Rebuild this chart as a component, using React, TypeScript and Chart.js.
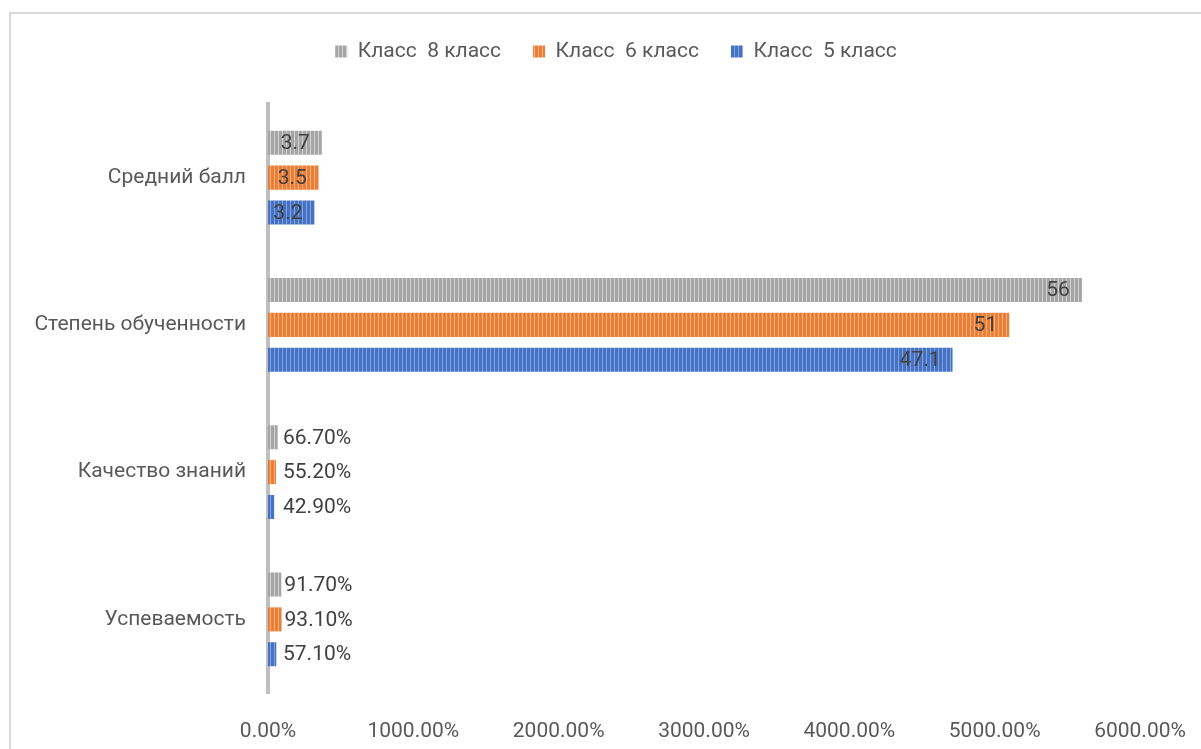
import React, { useEffect, useRef } from "react";
import { Chart, registerables } from "chart.js";

Chart.register(...registerables);

const categories = ["Средний балл", "Степень обученности", "Качество знаний", "Успеваемость"];
const seriesNames = ["Класс  8 класс", "Класс  6 класс", "Класс  5 класс"];
const class8 = [3.7, 56, 0.667, 0.917];
const class6 = [3.5, 51, 0.552, 0.931];
const class5 = [3.2, 47.1, 0.429, 0.571];
const percentCategories = [false, false, true, true];
const axisMin = 0;
const axisMax = 60;
const axisStep = 10;

const baseColors = ["#a5a5a5", "#ed7d31", "#4472c4"];
const lightColors = ["#d2d2d2", "#f6b48a", "#86a2db"];

const FONT = "Roboto";
const FS = 21;

function makePattern(base: string, light: string): CanvasPattern | string {
  const c = document.createElement("canvas");
  c.width = 4;
  c.height = 4;
  const g = c.getContext("2d");
  if (!g) return base;
  g.fillStyle = base;
  g.fillRect(0, 0, 4, 4);
  g.fillStyle = light;
  g.fillRect(2, 0, 1, 4);
  const p = g.createPattern(c, "repeat");
  return p || base;
}

function fmtPercent(v: number): string {
  return (v * 100).toFixed(2) + "%";
}

const labelPlugin = {
  id: "barLabels",
  beforeLayout(chart: any) {
    const lg = chart.legend;
    if (lg && !lg._patched) {
      const orig = lg.fit;
      lg.fit = function () {
        orig.call(this);
        this.height += 32;
      };
      lg._patched = true;
    }
  },
  afterLayout(chart: any) {
    const lg = chart.legend;
    if (lg) {
      lg.left += 46;
      lg.right += 46;
    }
  },
  afterDatasetsDraw(chart: any) {
    const ctx = chart.ctx;
    ctx.save();
    ctx.font = `${FS}px ${FONT}`;
    ctx.fillStyle = "#404040";
    ctx.textBaseline = "middle";
    chart.data.datasets.forEach((ds: any, di: number) => {
      const meta = chart.getDatasetMeta(di);
      meta.data.forEach((bar: any, i: number) => {
        const v = ds.data[i];
        const text = percentCategories[i] ? fmtPercent(v) : String(v);
        const w = ctx.measureText(text).width;
        const len = bar.x - bar.base;
        if (len > w + 16) {
          ctx.textAlign = "right";
          ctx.fillText(text, bar.x - 12, bar.y + 1);
        } else {
          ctx.textAlign = "left";
          ctx.fillText(text, Math.max(bar.x + 3, bar.base + 15), bar.y + 1);
        }
      });
    });
    ctx.restore();
  },
};

export default function App() {
  const ref = useRef<HTMLCanvasElement | null>(null);
  useEffect(() => {
    if (!ref.current) return;
    const patterns = baseColors.map((b, i) => makePattern(b, lightColors[i]));
    const values = [class8, class6, class5];
    const chart = new Chart(ref.current, {
      type: "bar",
      data: {
        labels: categories,
        datasets: seriesNames.map((name, i) => ({
          label: name,
          data: values[i],
          backgroundColor: patterns[i] as any,
          borderWidth: 0,
          categoryPercentage: 0.71,
          barPercentage: 0.69,
        })),
      },
      options: {
        indexAxis: "y",
        animation: false,
        responsive: false,
        layout: { padding: { top: 9, right: 61, bottom: 0, left: 0 } },
        plugins: {
          legend: {
            position: "top",
            labels: {
              boxWidth: 12,
              boxHeight: 12,
              padding: 32,
              color: "#595959",
              font: { family: FONT, size: FS },
            },
          },
          tooltip: { enabled: false },
        },
        scales: {
          x: {
            min: axisMin,
            max: axisMax,
            grid: { display: false, drawTicks: false },
            border: { display: false },
            ticks: {
              stepSize: axisStep,
              color: "#595959",
              font: { family: FONT, size: FS },
              padding: 26,
              maxRotation: 0,
              callback: (v: any) => fmtPercent(Number(v)),
            },
            afterFit: (s: any) => {
              s.height = 56;
              s.paddingLeft = 0;
              s.paddingRight = 0;
            },
          },
          y: {
            grid: { display: false, drawTicks: false },
            border: { display: true, color: "#bfbfbf", width: 4 },
            ticks: {
              color: "#595959",
              font: { family: FONT, size: FS },
              padding: 22,
            },
            afterFit: (s: any) => {
              s.width = 268;
            },
          },
        },
      },
      plugins: [labelPlugin],
    });
    return () => chart.destroy();
  }, []);
  return (
    <div style={{ position: "fixed", left: 0, top: 0, width: 1201, height: 749, background: "#fff", overflow: "hidden" }}>
      <div
        style={{
          position: "absolute",
          left: 9,
          top: 12,
          width: 1200,
          height: 800,
          border: "2px solid #d9d9d9",
          boxSizing: "border-box",
        }}
      />
      <canvas ref={ref} width={1201} height={749} style={{ position: "absolute", left: 0, top: 0, width: 1201, height: 749 }} />
    </div>
  );
}
